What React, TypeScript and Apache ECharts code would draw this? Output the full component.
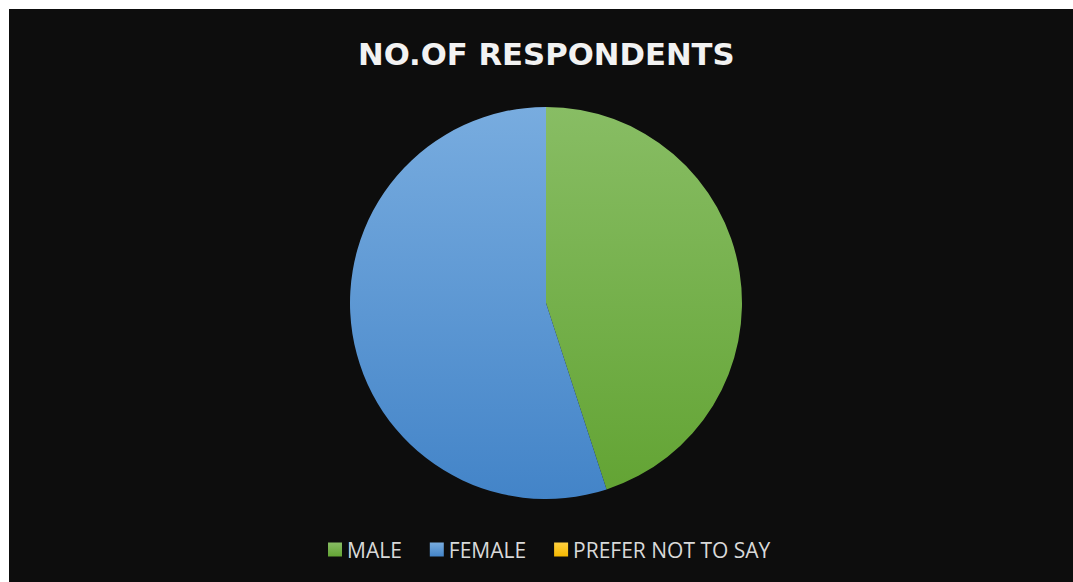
import React, { useEffect, useRef } from "react";
import * as echarts from "echarts";

const categories = ["MALE", "FEMALE", "PREFER NOT TO SAY"];
const values = [45, 55, 0];
const topColors = ["#88bd64", "#78acdf", "#ffd040"];
const bottomColors = ["#63a434", "#4384c8", "#f5b800"];

export default function App() {
  const ref = useRef<HTMLDivElement>(null);
  useEffect(() => {
    const chart = echarts.init(ref.current!, null, { renderer: "svg" });
    chart.setOption({
      animation: false,
      backgroundColor: "#0d0d0d",
      title: {
        text: "NO.OF RESPONDENTS",
        left: 344,
        top: 25,
        textStyle: {
          color: "#f2f2f2",
          fontFamily: "DejaVu Sans",
          fontWeight: 700,
          fontSize: 30.7,
        },
      },
      legend: {
        left: 319,
        top: 530,
        padding: 0,
        itemWidth: 14,
        itemHeight: 14,
        itemGap: 28,
        icon: "rect",
        textStyle: { color: "#d9d9d9", fontFamily: "Open Sans", fontSize: 21 },
        data: categories,
      },
      series: [
        {
          type: "pie",
          center: [537, 294],
          radius: [0, 196],
          startAngle: 90,
          clockwise: true,
          label: { show: false },
          labelLine: { show: false },
          emphasis: { disabled: true },
          data: categories.map((name, i) => ({
            name,
            value: values[i],
            itemStyle: {
              color: new echarts.graphic.LinearGradient(0, 0, 0, 1, [
                { offset: 0, color: topColors[i] },
                { offset: 1, color: bottomColors[i] },
              ]),
            },
          })),
        },
      ],
    });
    return () => chart.dispose();
  }, []);
  return (
    <div
      ref={ref}
      style={{ position: "absolute", left: 9, top: 9, width: 1064, height: 573 }}
    />
  );
}
